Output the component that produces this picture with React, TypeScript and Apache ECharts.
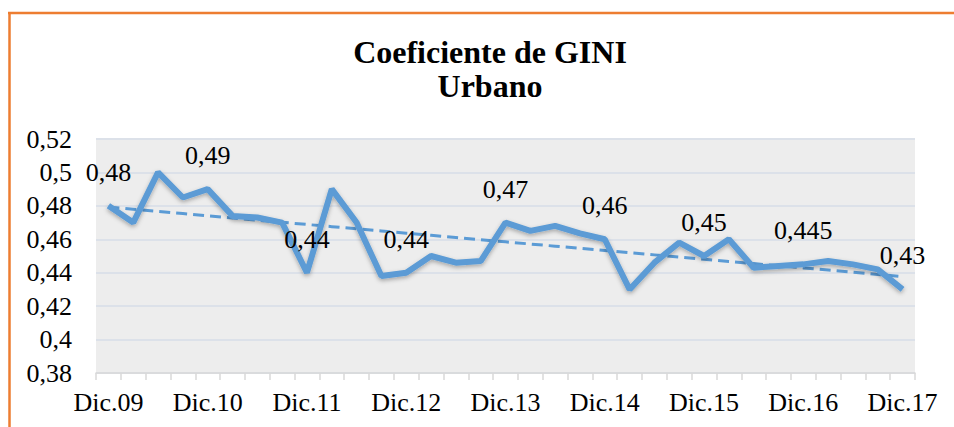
import React, { useEffect, useRef } from "react";
import * as echarts from "echarts";

const categories = [
  "Dic.09", "Mar.10", "Jun.10", "Sep.10",
  "Dic.10", "Mar.11", "Jun.11", "Sep.11",
  "Dic.11", "Mar.12", "Jun.12", "Sep.12",
  "Dic.12", "Mar.13", "Jun.13", "Sep.13",
  "Dic.13", "Mar.14", "Jun.14", "Sep.14",
  "Dic.14", "Mar.15", "Jun.15", "Sep.15",
  "Dic.15", "Mar.16", "Jun.16", "Sep.16",
  "Dic.16", "Mar.17", "Jun.17", "Sep.17",
  "Dic.17",
];

const giniValues = [
  0.48, 0.47, 0.5, 0.485,
  0.49, 0.474, 0.473, 0.47,
  0.44, 0.49, 0.47, 0.438,
  0.44, 0.45, 0.446, 0.447,
  0.47, 0.465, 0.468, 0.4635,
  0.46, 0.43, 0.446, 0.458,
  0.45, 0.46, 0.443, 0.444,
  0.445, 0.447, 0.445, 0.442,
  0.43,
];

const labelIndices = [0, 4, 8, 12, 16, 20, 24, 28, 32];

const yMin = 0.38;
const yMax = 0.52;
const yInterval = 0.02;

const FONT = "'Liberation Serif', 'Times New Roman', serif";
const BLUE = "#5B9BD5";

function linearTrend(values: number[]): number[] {
  const n = values.length;
  const xm = (n - 1) / 2;
  const ym = values.reduce((a, b) => a + b, 0) / n;
  let sxy = 0;
  let sxx = 0;
  values.forEach((v, i) => {
    sxy += (i - xm) * (v - ym);
    sxx += (i - xm) * (i - xm);
  });
  const slope = sxy / sxx;
  return values.map((_, i) => ym + slope * (i - xm));
}

const fmt = (v: number) => String(+v.toFixed(3)).replace(".", ",");

export default function App() {
  const ref = useRef<HTMLDivElement>(null);

  useEffect(() => {
    if (!ref.current) return;
    const chart = echarts.init(ref.current, null, { renderer: "svg" });
    const trend = linearTrend(giniValues);
    chart.setOption({
      animation: false,
      backgroundColor: "#ffffff",
      title: {
        text: "Coeficiente de GINI\nUrbano",
        left: 490,
        textAlign: "center",
        top: 35,
        padding: 0,
        textStyle: {
          fontFamily: FONT,
          fontSize: 32,
          fontWeight: "bold",
          lineHeight: 34,
          color: "#000",
        },
      },
      graphic: [
        {
          type: "line",
          shape: { x1: 8, y1: 13, x2: 954, y2: 13 },
          style: { stroke: "#ED7D31", lineWidth: 2.5 },
        },
        {
          type: "line",
          shape: { x1: 9.5, y1: 12, x2: 9.5, y2: 427 },
          style: { stroke: "#ED7D31", lineWidth: 2.5 },
        },
      ],
      grid: {
        left: 96,
        right: 39,
        top: 139,
        bottom: 54,
        show: true,
        backgroundColor: "#EDEDED",
        borderWidth: 0,
      },
      xAxis: {
        type: "category",
        data: categories,
        boundaryGap: true,
        axisLine: { show: true, lineStyle: { color: "#D9D9D9", width: 1.5 } },
        axisTick: {
          show: true,
          interval: 0,
          length: 7,
          lineStyle: { color: "#D9D9D9", width: 1.5 },
        },
        axisLabel: {
          interval: 3,
          margin: 16,
          fontFamily: FONT,
          fontSize: 26,
          color: "#000",
        },
        splitLine: { show: false },
      },
      yAxis: {
        type: "value",
        min: yMin,
        max: yMax,
        interval: yInterval,
        axisLine: { show: false },
        axisTick: { show: false },
        axisLabel: {
          margin: 24,
          fontFamily: FONT,
          fontSize: 26,
          color: "#000",
          formatter: (v: number) => fmt(v),
        },
        splitLine: { lineStyle: { color: "#DCE1E9", width: 2 } },
      },
      series: [
        {
          name: "Tendencia",
          type: "line",
          data: trend,
          symbol: "none",
          lineStyle: { color: BLUE, width: 3, type: [11, 6] },
          z: 2,
          silent: true,
        },
        {
          name: "GINI Urbano",
          type: "line",
          data: giniValues.map((v, i) => ({
            value: v,
            label: { show: labelIndices.includes(i) },
          })),
          showSymbol: true,
          symbol: "circle",
          symbolSize: 1,
          itemStyle: { color: "rgba(0,0,0,0)" },
          lineStyle: {
            color: BLUE,
            width: 6,
            shadowColor: "rgba(0,0,0,0.3)",
            shadowBlur: 4,
            shadowOffsetY: 2,
          },
          label: {
            show: false,
            position: "top",
            distance: 20,
            fontFamily: FONT,
            fontSize: 26,
            color: "#000",
            formatter: (p: any) => fmt(p.value),
          },
          labelLayout: { hideOverlap: false },
          z: 3,
        },
      ],
    });
    return () => chart.dispose();
  }, []);

  return (
    <div
      ref={ref}
      style={{ position: "fixed", left: 0, top: 0, width: 954, height: 427 }}
    />
  );
}
